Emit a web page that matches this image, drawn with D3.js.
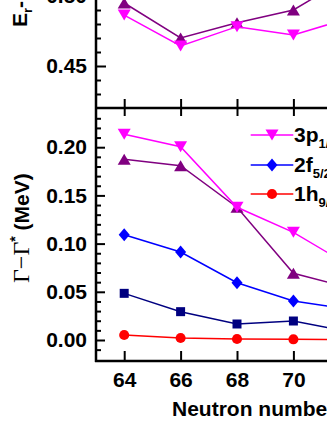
<!DOCTYPE html>
<html lang="en">
<head>
<meta charset="utf-8">
<title>Width vs neutron number</title>
<script src="https://d3js.org/d3.v7.min.js"></script>
<style>
  body { margin: 0; background: #fff; }
  svg { display: block; }
  .tick text { font: bold 21px "Liberation Sans", Arial, sans-serif; fill: #000; }
  .tick line { stroke: #000; stroke-width: 2; }
  .lbl { font: bold 21px "Liberation Sans", Arial, sans-serif; fill: #000; }
</style>
</head>
<body>
<div id="chart"></div>
<script>
// data
var neutrons = [64, 66, 68, 70, 72];

// upper panel (E_r - E_r*)
var topPurple  = [0.495, 0.470, 0.4809, 0.490, 0.514];
var topMagenta = [0.4864, 0.4643, 0.4781, 0.4721, 0.4843];

// lower panel (Gamma - Gamma*)
var w3p  = [0.2134, 0.2005, 0.1377, 0.1117, 0.077];
var wPur = [0.1875, 0.1808, 0.1377, 0.0692, 0.054];
var w2f  = [0.1092, 0.0913, 0.0594, 0.0405, 0.0316];
var wSq  = [0.0484, 0.0294, 0.0166, 0.0197, 0.0085];
var w1h  = [0.0052, 0.0021, 0.0010, 0.0007, 0.0005];

var xTicks = [64, 66, 68, 70, 72];
var topTicks = [0.45, 0.50];
var botTicks = [0.00, 0.05, 0.10, 0.15, 0.20];

var legendNames = [["3p", "1/2"], ["2f", "5/2"], ["1h", "9/2"]];

var W = 327, H = 423;
var svg = d3.select("#chart").append("svg")
    .attr("width", W).attr("height", H);

var x = d3.scaleLinear().domain([63, 73]).range([96, 378]);
var yTop = d3.scaleLinear().domain([0.42, 0.50]).range([108, -4]);
var yBot = d3.scaleLinear().domain([0, 0.20]).range([340, 147.2]);

// marker shapes
function shape(kind) {
  if (kind == "down") return "M-6.5,-5.5L6.5,-5.5L0,5.5Z";
  if (kind == "up") return "M-6.5,5.5L6.5,5.5L0,-5.5Z";
  if (kind == "diamond") return "M0,-6.5L5.5,0L0,6.5L-5.5,0Z";
  if (kind == "square") return "M-4.5,-4.5H4.5V4.5H-4.5Z";
  return d3.symbol(d3.symbolCircle, 80)();
}

function drawSeries(g, vals, yScale, color, kind) {
  var pts = neutrons.map(function(n, i) { return [n, vals[i]]; });
  var line = d3.line()
    .x(function(d) { return x(d[0]); })
    .y(function(d) { return yScale(d[1]); });
  g.append("path").datum(pts)
    .attr("d", line)
    .attr("fill", "none")
    .attr("stroke", color)
    .attr("stroke-width", 1.5);
  g.selectAll(null).data(pts).enter().append("path")
    .attr("transform", function(d) { return "translate(" + x(d[0]) + "," + yScale(d[1]) + ")"; })
    .attr("d", shape(kind))
    .attr("fill", color);
}

function noDomain(g) { g.select(".domain").remove(); }

// ---- upper panel ----
var gTop = svg.append("g");
drawSeries(gTop, topPurple, yTop, "#800080", "up");
drawSeries(gTop, topMagenta, yTop, "#ff00ff", "down");

var topMinor = d3.range(0.43, 0.515, 0.01).filter(function(v) {
  return Math.abs(v - 0.45) > 0.001 && Math.abs(v - 0.50) > 0.001;
});
svg.append("g").attr("transform", "translate(96,0)")
  .call(d3.axisLeft(yTop).tickValues(topTicks).tickFormat(d3.format(".2f"))
    .tickSize(-10).tickPadding(9))
  .call(noDomain);
svg.append("g").attr("transform", "translate(96,0)")
  .call(d3.axisLeft(yTop).tickValues(topMinor).tickFormat("").tickSize(-5))
  .call(noDomain);
svg.append("g").attr("transform", "translate(0,108)")
  .call(d3.axisBottom(x).tickValues(xTicks).tickFormat("").tickSize(-9))
  .call(noDomain);

// ---- lower panel ----
var gBot = svg.append("g");
drawSeries(gBot, w1h, yBot, "#ff0000", "circle");
drawSeries(gBot, wSq, yBot, "#000080", "square");
drawSeries(gBot, w2f, yBot, "#0000ff", "diamond");
drawSeries(gBot, wPur, yBot, "#800080", "up");
drawSeries(gBot, w3p, yBot, "#ff00ff", "down");

var botMinor = d3.range(-0.01, 0.235, 0.01).filter(function(v) {
  return botTicks.every(function(t) { return Math.abs(v - t) > 0.001; });
});
svg.append("g").attr("transform", "translate(96,0)")
  .call(d3.axisLeft(yBot).tickValues(botTicks).tickFormat(d3.format(".2f"))
    .tickSize(-9).tickPadding(9))
  .call(noDomain);
svg.append("g").attr("transform", "translate(96,0)")
  .call(d3.axisLeft(yBot).tickValues(botMinor).tickFormat("").tickSize(-5))
  .call(noDomain);
svg.append("g").attr("transform", "translate(0,108)")
  .call(d3.axisTop(x).tickValues(xTicks).tickFormat("").tickSize(-8))
  .call(noDomain);
svg.append("g").attr("transform", "translate(0,361)")
  .call(d3.axisBottom(x).tickValues(xTicks).tickSize(-10).tickPadding(11))
  .call(noDomain);

// frame lines
svg.append("line").attr("x1", 96).attr("x2", 96).attr("y1", -5).attr("y2", 362)
  .attr("stroke", "#000").attr("stroke-width", 2.5);
svg.append("line").attr("x1", 95).attr("x2", W + 5).attr("y1", 108).attr("y2", 108)
  .attr("stroke", "#000").attr("stroke-width", 2.5);
svg.append("line").attr("x1", 95).attr("x2", W + 5).attr("y1", 361).attr("y2", 361)
  .attr("stroke", "#000").attr("stroke-width", 2.5);

// legend
var legColors = ["#ff00ff", "#0000ff", "#ff0000"];
var legKinds = ["down", "diamond", "circle"];
var legY = [135, 165, 194];
legendNames.forEach(function(nm, i) {
  var g = svg.append("g").attr("transform", "translate(0," + legY[i] + ")");
  g.append("line").attr("x1", 250.7).attr("x2", 293.3).attr("y1", 0).attr("y2", 0)
    .attr("stroke", legColors[i]).attr("stroke-width", 1.5);
  g.append("path").attr("transform", "translate(272,0)")
    .attr("d", shape(legKinds[i])).attr("fill", legColors[i]);
  var t = g.append("text").attr("class", "lbl").attr("x", 294).attr("y", 7);
  t.append("tspan").text(nm[0]);
  t.append("tspan").attr("dy", 6).style("font-size", "13px").text(nm[1]);
});

// axis titles
svg.append("text").attr("class", "lbl")
  .attr("x", 172).attr("y", 416)
  .text("Neutron number");

var yt = svg.append("text")
  .attr("transform", "translate(29,283) rotate(-90)");
yt.append("tspan")
  .style("font", "24px 'Liberation Serif', 'Times New Roman', serif")
  .text("\u0393\u2212\u0393");
yt.append("tspan").attr("dy", -9)
  .style("font", "bold 14px 'Liberation Sans', Arial, sans-serif")
  .text("*");
yt.append("tspan").attr("dy", 9)
  .style("font", "bold 21px 'Liberation Sans', Arial, sans-serif")
  .text(" (MeV)");

var et = svg.append("text").attr("class", "lbl")
  .attr("transform", "translate(27,27) rotate(-90)");
et.append("tspan").text("E");
et.append("tspan").attr("dy", 5).style("font-size", "13px").text("r");
et.append("tspan").attr("dy", -5).text("-E");
et.append("tspan").attr("dy", 5).style("font-size", "13px").text("r");
et.append("tspan").attr("dy", -12).style("font-size", "13px").text("*");
et.append("tspan").attr("dy", 7).text(" (MeV)");
</script>
</body>
</html>
